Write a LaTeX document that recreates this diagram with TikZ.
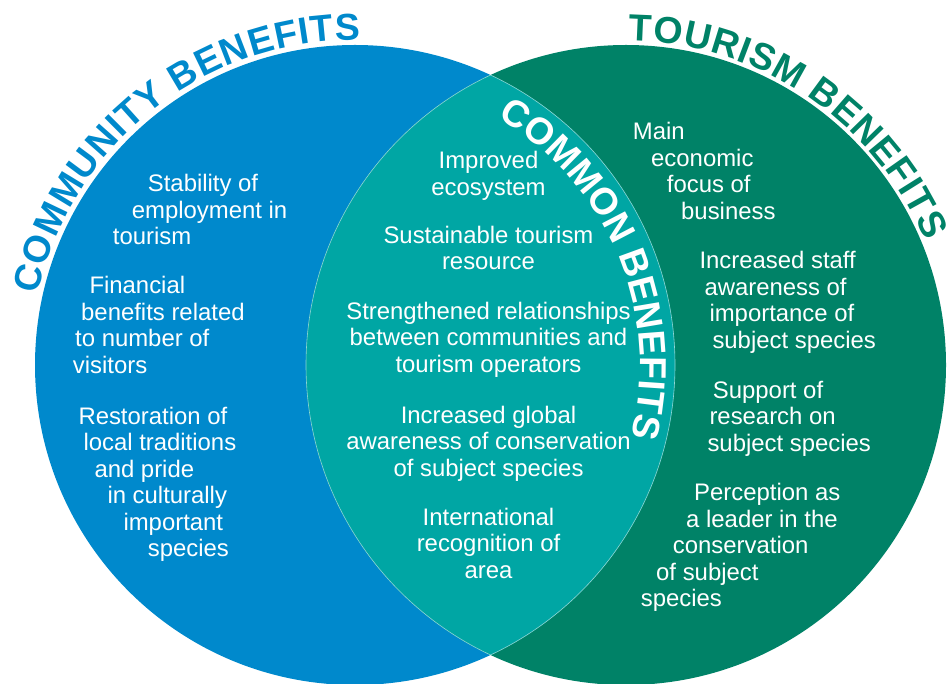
\documentclass[tikz,border=0pt]{standalone}
\usepackage{fontspec}
\setmainfont{Liberation Sans}
\usetikzlibrary{decorations.text}

\definecolor{commblue}{RGB}{0,137,204}
\definecolor{tourgreen}{RGB}{0,130,103}
\definecolor{commonteal}{RGB}{0,166,164}

\newcommand{\headfont}{\fontsize{37.5}{40}\selectfont\bfseries}
\newcommand{\itemfont}{\fontsize{23.9}{26.5}\selectfont}

\begin{document}
\begin{tikzpicture}[
    x=1pt, y=1pt,
    item/.style={text=white, font=\itemfont, inner sep=0pt, align=left, anchor=base west},
    citem/.style={item, align=center, anchor=base},
    arctext/.style 2 args={decorate, decoration={text along path, text align=fit to path, text color=#1, text={|\headfont|#2}}}
]
    \useasboundingbox (0,0) rectangle (952,683);

    % Circles
    \coordinate (bc) at (355,318);
    \coordinate (gc) at (626,318);
    \fill[commblue] (bc) circle (320);
    \fill[tourgreen] (gc) circle (320);
    \begin{scope}
        \clip (bc) circle (320);
        \fill[commonteal] (gc) circle (320);
        \draw[white!55!commonteal, line width=0.6pt] (gc) circle (320);
    \end{scope}
    \begin{scope}
        \clip (gc) circle (320);
        \draw[white!55!commonteal, line width=0.6pt] (bc) circle (320);
    \end{scope}

    % Titles
    \path[arctext={commblue}{COMMUNITY BENEFITS}] ([shift={(167.5:325)}]bc) arc[start angle=167.5, end angle=89, radius=325];
    \path[arctext={tourgreen}{TOURISM BENEFITS}] ([shift={(89.5:324)}]gc) arc[start angle=89.5, end angle=22.5, radius=324];
    \path[arctext={white}{COMMON BENEFITS}] ([shift={(60:285)}]bc) arc[start angle=60, end angle=-13.5, radius=285];

    % Community benefits (nodes sit on their last line)
    \node[item] (stability) at (112.7,438) {\hspace*{35pt}Stability of\\\hspace*{19pt}employment in\\tourism};
    \node[item] (financial) at (72.7,309.7) {\hspace*{16.6pt}Financial\\\hspace*{8.3pt}benefits related\\\hspace*{2.3pt}to number of\\visitors};
    \node[item] (restoration) at (78.3,126.3) {Restoration of\\\hspace*{5pt}local traditions\\\hspace*{16pt}and pride\\\hspace*{29pt}in culturally\\\hspace*{45pt}important\\\hspace*{69.4pt}species};

    % Common benefits
    \node[citem] (ecosystem) at (488.5,487.5) {Improved\\ecosystem};
    \node[citem] (resource) at (488.5,413) {Sustainable tourism\\resource};
    \node[citem] (relations) at (488.5,310.5) {Strengthened relationships\\between communities and\\tourism operators};
    \node[citem] (awareness) at (488.5,207) {Increased global\\awareness of conservation\\of subject species};
    \node[citem] (recognition) at (488.5,104.7) {International\\recognition of\\area};

    % Tourism benefits
    \node[item] (focus) at (632.7,463.7) {Main\\\hspace*{18.3pt}economic\\\hspace*{34pt}focus of\\\hspace*{48.3pt}business};
    \node[item] (staff) at (699.3,334.7) {Increased staff\\\hspace*{5pt}awareness of\\\hspace*{10pt}importance of\\\hspace*{13pt}subject species};
    \node[item] (research) at (707.3,232) {\hspace*{5.4pt}Support of\\\hspace*{2pt}research on\\subject species};
    \node[item] (leader) at (640.7,76.3) {\hspace*{53.3pt}Perception as\\\hspace*{45.3pt}a leader in the\\\hspace*{32pt}conservation\\\hspace*{15.3pt}of subject\\species};
\end{tikzpicture}
\end{document}
